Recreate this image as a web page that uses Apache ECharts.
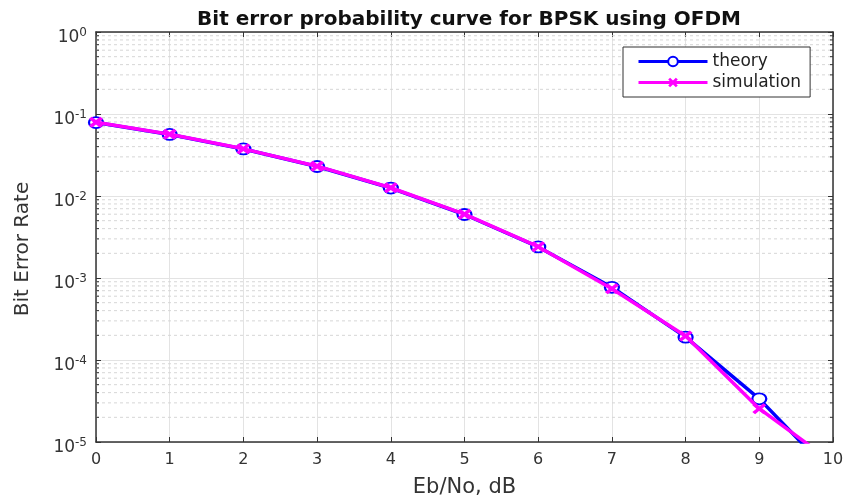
<!DOCTYPE html>
<html><head><meta charset="utf-8">
<script src="https://cdn.jsdelivr.net/npm/echarts@6/dist/echarts.min.js"></script>
<style>html,body{margin:0;padding:0;background:#fff}#c{width:849px;height:503px}</style>
</head><body><div id="c"></div>
<script>
const ebNo = [0, 1, 2, 3, 4, 5, 6, 7, 8, 9, 10];
const theory = [0.0786, 0.0563, 0.0375, 0.0229, 0.0125, 0.00595, 0.00239, 0.00077, 0.00019, 0.0000336, 0.0000039];
const simulation = [0.0792, 0.0566, 0.0376, 0.0231, 0.0126, 0.00600, 0.00241, 0.00074, 0.000196, 0.0000255, 0.0000056];
const xTicks = [0, 1, 2, 3, 4, 5, 6, 7, 8, 9, 10];
const yDecades = [1e-5, 1e-4, 1e-3, 1e-2, 1e-1];
const minorMultipliers = [2, 3, 4, 5, 6, 7, 8, 9];

const FONT = 'DejaVu Sans, sans-serif';
const minorVals = [];
yDecades.forEach(d => minorMultipliers.forEach(m => minorVals.push([0, d * m])));

const chart = echarts.init(document.getElementById('c'), null, {renderer: 'canvas'});

const yLabel = {
  margin: 9,
  formatter: v => '{b|10}{s|' + Math.round(Math.log10(v)) + '}',
  rich: {
    b: {fontSize: 17, lineHeight: 17, padding: [11, 0, 0, 0], color: '#333', fontFamily: FONT},
    s: {fontSize: 12, lineHeight: 12, padding: [9, 0, 7, 0], color: '#333', fontFamily: FONT}
  }
};

const option = {
  animation: false,
  backgroundColor: '#fff',
  title: {
    text: 'Bit error probability curve for BPSK using OFDM',
    left: 464, top: 5, textAlign: 'center',
    textStyle: {fontSize: 20, fontWeight: 'bold', color: '#111', fontFamily: FONT}
  },
  grid: {left: 96, right: 16, top: 32, bottom: 59},
  legend: {
    data: ['theory', 'simulation'],
    orient: 'vertical', left: 623, top: 47,
    itemWidth: 69, itemHeight: 12, itemGap: 4,
    padding: [6, 9, 6, 14],
    backgroundColor: '#fff', borderColor: '#333', borderWidth: 1, borderRadius: 0,
    lineStyle: {width: 3},
    textStyle: {fontSize: 17, color: '#222', fontFamily: FONT}
  },
  xAxis: [{
    type: 'value', min: 0, max: 10, interval: 1,
    name: 'Eb/No, dB', nameLocation: 'middle', nameGap: 35,
    nameTextStyle: {fontSize: 21, color: '#333', fontFamily: FONT},
    axisLine: {onZero: false, lineStyle: {color: '#333', width: 1.5}},
    axisTick: {inside: true, length: 5, lineStyle: {color: '#333'}},
    axisLabel: {margin: 10, fontSize: 16, color: '#333', fontFamily: FONT},
    splitLine: {show: true, lineStyle: {color: '#e3e3e3', width: 1}}
  }, {
    type: 'value', min: 0, max: 10, interval: 1, position: 'top',
    axisLine: {onZero: false, lineStyle: {color: '#333', width: 1.5}},
    axisTick: {inside: true, length: 5, lineStyle: {color: '#333'}},
    axisLabel: {show: false}, splitLine: {show: false}
  }],
  yAxis: [{
    type: 'log', logBase: 10, min: 1e-5, max: 1,
    name: 'Bit Error Rate', nameLocation: 'middle', nameGap: 63,
    nameTextStyle: {fontSize: 20, color: '#333', fontFamily: FONT, padding: [0, 24, 0, 0]},
    axisLine: {show: true, onZero: false, lineStyle: {color: '#333', width: 1.5}},
    axisTick: {show: true, inside: true, length: 5, lineStyle: {color: '#333'}},
    axisLabel: yLabel,
    splitLine: {show: true, lineStyle: {color: '#e3e3e3', width: 1}}
  }, {
    type: 'log', logBase: 10, min: 1e-5, max: 1, position: 'right',
    axisLine: {show: true, onZero: false, lineStyle: {color: '#333', width: 1.5}},
    axisTick: {show: true, inside: true, length: 5, lineStyle: {color: '#333'}},
    axisLabel: {show: false}, splitLine: {show: false}
  }],
  series: [{
    type: 'custom', name: 'minor', silent: true, z: 1,
    xAxisIndex: 0, yAxisIndex: 0,
    data: minorVals,
    renderItem: (params, api) => {
      const v = api.value(1);
      const p0 = api.coord([0, v]);
      const p1 = api.coord([10, v]);
      return {
        type: 'group',
        children: [
          {type: 'line', shape: {x1: p0[0], y1: p0[1], x2: p1[0], y2: p1[1]},
           style: {stroke: '#d6d6d6', lineWidth: 1, lineDash: [3, 3]}},
          {type: 'line', shape: {x1: p0[0], y1: p0[1], x2: p0[0] + 3, y2: p0[1]},
           style: {stroke: '#333', lineWidth: 1}},
          {type: 'line', shape: {x1: p1[0], y1: p1[1], x2: p1[0] - 3, y2: p1[1]},
           style: {stroke: '#333', lineWidth: 1}}
        ]
      };
    }
  }, {
    name: 'theory', type: 'line', z: 3,
    data: ebNo.map((x, i) => [x, theory[i]]),
    symbol: 'emptyCircle', symbolSize: [14, 11], clip: true,
    lineStyle: {color: '#0000ff', width: 3.5},
    itemStyle: {color: '#0000ff', borderColor: '#0000ff', borderWidth: 3.5}
  }, {
    name: 'simulation', type: 'line', z: 4,
    data: ebNo.map((x, i) => [x, simulation[i]]),
    symbol: 'path://M0,2 L2,0 L5,3 L8,0 L10,2 L7,5 L10,8 L8,10 L5,7 L2,10 L0,8 L3,5 Z',
    symbolSize: [14, 11], clip: true,
    lineStyle: {color: '#ff00ff', width: 3.5},
    itemStyle: {color: '#ff00ff'}
  }]
};
chart.setOption(option);
</script></body></html>
